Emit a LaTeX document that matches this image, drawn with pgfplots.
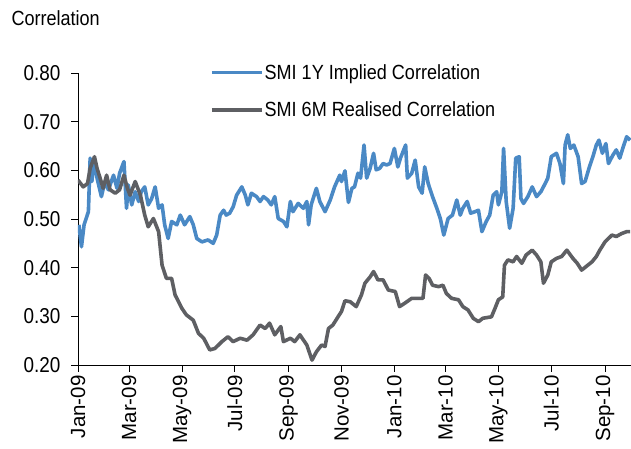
\documentclass[border=0pt]{standalone}
\usepackage{pgfplots}
\pgfplotsset{compat=1.18}
\usepackage{fontspec}
\setmainfont{Liberation Sans}[FakeStretch=0.88]
\newfontfamily\xfont{Liberation Sans}
\definecolor{implblue}{HTML}{4A89C5}
\definecolor{realgrey}{HTML}{5E5F63}

\begin{document}
\begin{tikzpicture}
\useasboundingbox (-78pt,-84pt) rectangle (553pt,365pt);
\begin{axis}[
  scale only axis, width=553pt, height=292pt,
  xmin=0, xmax=638, ymin=0.2, ymax=0.8,
  axis lines*=left,
  axis line style={black, line width=0.8pt},
  tick style={black, line width=0.8pt},
  tick align=outside, major tick length=7pt,
  xtick={0,59,120,181,243,304,365,424,485,546,608},
  xticklabels={Jan-09,Mar-09,May-09,Jul-09,Sep-09,Nov-09,Jan-10,Mar-10,May-10,Jul-10,Sep-10},
  xticklabel style={rotate=90, anchor=east, font=\xfont\fontsize{20.5}{22}\selectfont},
  ytick={0.2,0.3,0.4,0.5,0.6,0.7,0.8},
  yticklabel style={font=\fontsize{21.5}{24}\selectfont, xshift=-7pt,
    /pgf/number format/.cd, fixed, fixed zerofill, precision=2, assume math mode=true},
  legend style={at={(axis description cs:0.233,1.04)}, anchor=north west,
    draw=none, fill=none, font=\fontsize{20.5}{22}\selectfont,
    row sep=19pt, cells={anchor=west},
    nodes={inner sep=1pt}},
  legend image code/.code={\draw[#1, line width=3.6pt] (0pt,0pt) -- (50pt,0pt);},
  line join=round,
]
\addplot[implblue, line width=3.6pt] coordinates {
(1,0.488)(4,0.443)(7,0.488)(12,0.515)(14,0.625)(16,0.577)(18,0.618)(22,0.584)(27,0.546)(31,0.577)(35,0.560)(41,0.590)(45,0.563)(48,0.594)(53,0.618)(56,0.522)(58,0.570)(62,0.529)(66,0.556)(70,0.536)(73,0.556)(77,0.566)(81,0.529)(85,0.542)(89,0.566)(93,0.522)(97,0.529)(100,0.488)(104,0.460)(108,0.495)(114,0.488)(118,0.508)(123,0.488)(129,0.505)(133,0.488)(137,0.460)(143,0.453)(150,0.457)(156,0.450)(160,0.467)(164,0.508)(168,0.518)(171,0.508)(175,0.512)(179,0.525)(183,0.549)(189,0.566)(193,0.549)(196,0.529)(200,0.553)(206,0.546)(210,0.536)(214,0.546)(219,0.539)(223,0.529)(227,0.546)(231,0.501)(237,0.495)(241,0.484)(245,0.536)(248,0.515)(254,0.532)(260,0.522)(264,0.536)(266,0.488)(269,0.529)(275,0.563)(279,0.536)(285,0.515)(291,0.539)(296,0.566)(302,0.590)(304,0.577)(308,0.599)(312,0.534)(316,0.563)(319,0.566)(323,0.594)(326,0.584)(330,0.652)(333,0.584)(337,0.604)(341,0.635)(344,0.601)(348,0.604)(352,0.614)(356,0.611)(360,0.614)(365,0.645)(369,0.607)(372,0.625)(378,0.652)(380,0.584)(385,0.594)(389,0.621)(393,0.566)(397,0.553)(400,0.607)(404,0.573)(409,0.546)(414,0.522)(418,0.501)(422,0.467)(427,0.501)(432,0.508)(437,0.539)(441,0.508)(444,0.522)(449,0.536)(453,0.512)(458,0.515)(462,0.518)(466,0.474)(471,0.495)(475,0.508)(479,0.549)(483,0.556)(485,0.529)(489,0.556)(491,0.645)(494,0.536)(498,0.481)(502,0.522)(505,0.625)(509,0.628)(511,0.542)(514,0.532)(519,0.546)(524,0.566)(529,0.546)(534,0.556)(539,0.573)(542,0.584)(546,0.628)(552,0.635)(556,0.614)(560,0.573)(562,0.652)(565,0.673)(568,0.645)(572,0.652)(577,0.628)(581,0.573)(585,0.577)(590,0.607)(594,0.628)(598,0.652)(601,0.662)(605,0.635)(609,0.655)(612,0.614)(617,0.631)(621,0.642)(625,0.625)(629,0.648)(633,0.669)(637,0.662)
};
\addlegendentry{SMI 1Y Implied Correlation}
\addplot[realgrey, line width=3.6pt] coordinates {
(0,0.580)(6,0.566)(11,0.573)(14,0.604)(19,0.628)(22,0.604)(25,0.587)(29,0.563)(33,0.590)(37,0.560)(43,0.553)(48,0.560)(53,0.590)(57,0.563)(60,0.549)(66,0.577)(72,0.549)(77,0.508)(81,0.484)(87,0.501)(93,0.474)(97,0.405)(102,0.378)(108,0.378)(112,0.344)(120,0.316)(125,0.303)(133,0.292)(139,0.265)(145,0.255)(152,0.231)(158,0.234)(166,0.248)(173,0.258)(179,0.248)(187,0.255)(195,0.251)(202,0.262)(210,0.282)(216,0.275)(221,0.286)(227,0.262)(234,0.279)(237,0.248)(245,0.255)(250,0.248)(256,0.262)(264,0.241)(270,0.210)(275,0.227)(281,0.241)(285,0.238)(289,0.275)(294,0.282)(300,0.299)(304,0.310)(308,0.332)(314,0.330)(321,0.320)(327,0.344)(331,0.368)(337,0.381)(341,0.392)(346,0.375)(352,0.375)(358,0.354)(366,0.351)(371,0.320)(377,0.327)(385,0.337)(392,0.337)(398,0.337)(401,0.385)(405,0.378)(409,0.364)(416,0.361)(421,0.364)(425,0.347)(431,0.337)(439,0.334)(444,0.320)(450,0.313)(456,0.296)(462,0.289)(467,0.296)(477,0.299)(481,0.316)(485,0.334)(490,0.340)(492,0.405)(496,0.416)(502,0.412)(506,0.423)(512,0.409)(517,0.426)(524,0.436)(529,0.426)(534,0.412)(537,0.368)(542,0.385)(546,0.412)(552,0.419)(558,0.423)(564,0.436)(571,0.419)(576,0.409)(581,0.395)(586,0.402)(593,0.412)(598,0.423)(602,0.436)(608,0.453)(616,0.467)(621,0.464)(627,0.470)(633,0.474)(637,0.474)
};
\addlegendentry{SMI 6M Realised Correlation}
\end{axis}
\node[anchor=base west, font=\fontsize{20.5}{22}\selectfont] at (-70pt,339pt) {Correlation};
\end{tikzpicture}
\end{document}
